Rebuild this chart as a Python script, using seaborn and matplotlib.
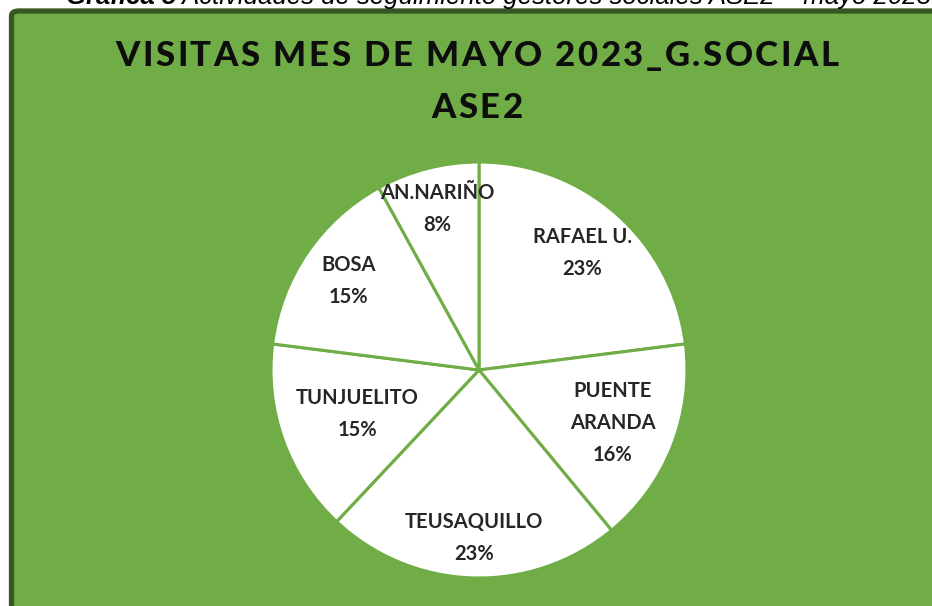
import matplotlib
matplotlib.use("Agg")
import matplotlib.pyplot as plt
import seaborn as sns
from matplotlib.patches import FancyBboxPatch
import numpy as np

# ========= DATOS ==========
localidades = ["RAFAEL U.", "PUENTE\nARANDA", "TEUSAQUILLO", "TUNJUELITO", "BOSA", "AN.NARIÑO"]
porcentajes = [23, 16, 23, 15, 15, 8]
titulo = ["VISITAS MES DE MAYO 2023_G.SOCIAL", "ASE2"]
leyenda_neg = "Gráfica 5"
leyenda_sup = " Actividades de seguimiento gestores sociales ASE2 – mayo 2023"

# ========= ESTILO ==========
sns.set_theme(style="white")
plt.rcParams["font.family"] = ["Lato", "DejaVu Sans"]
verde = "#70AD47"
verde_osc = "#375623"

W, H = 932, 606
fig = plt.figure(figsize=(W / 100, H / 100), dpi=100)
fig.patch.set_facecolor("white")
rend = fig.canvas.get_renderer()

# marco verde (recortado a la derecha y abajo)
marco = FancyBboxPatch((11.5 / W, -0.05), 1.0, (H - 11) / H + 0.05,
                       boxstyle="round,pad=0,rounding_size=0.008",
                       transform=fig.transFigure, facecolor=verde,
                       edgecolor=verde_osc, linewidth=3.8, zorder=0)
fig.patches.append(marco)

# leyenda de la figura, cortada arriba
t1 = fig.text(66 / W, 1 - 4 / H, leyenda_neg, fontsize=18.5, style="italic", weight="bold",
              family="Liberation Sans", va="baseline", ha="left", color="black")
x_sig = t1.get_window_extent(rend).x1
fig.text(x_sig / W, 1 - 4 / H, leyenda_sup, fontsize=18.5, style="italic",
         family="Liberation Sans", va="baseline", ha="left", color="black")


# título con espaciado entre letras
def texto_espaciado(s, xc, yb, extra, **kw):
    anchos = []
    for ch in s:
        t = fig.text(0, 0, ch if ch != " " else "i i", **kw)
        w = t.get_window_extent(rend).width
        if ch == " ":
            t2 = fig.text(0, 0, "ii", **kw)
            w = w - t2.get_window_extent(rend).width
            t2.remove()
        anchos.append(w)
        t.remove()
    total = sum(anchos) + extra * (len(s) - 1)
    x = xc - total / 2
    for ch, w in zip(s, anchos):
        fig.text(x / W, 1 - yb / H, ch, ha="left", va="baseline", **kw)
        x += w + extra


estilo_tit = dict(fontsize=25, weight="black", color="#0d0d0d")
texto_espaciado(titulo[0], 477, 66, 2.5, **estilo_tit)
texto_espaciado(titulo[1], 477, 118, 2.5, **estilo_tit)

# ========= PASTEL ==========
cx, cy, R = 479, 370, 208
ax = fig.add_axes([(cx - R) / W, (H - cy - R) / H, 2 * R / W, 2 * R / H], zorder=2)
ax.set_facecolor("none")
wedges, _ = ax.pie(porcentajes, startangle=90, counterclock=False, radius=1,
                   colors=["white"] * len(porcentajes),
                   wedgeprops=dict(edgecolor=verde, linewidth=2.2))
ax.set_xlim(-1, 1)
ax.set_ylim(-1, 1)
ax.set_aspect("equal")
ax.axis("off")

dist = [0.75, 0.69, 0.81, 0.62, 0.76, 0.80]
for w, nombre, p, d in zip(wedges, localidades, porcentajes, dist):
    ang = np.deg2rad((w.theta1 + w.theta2) / 2)
    ax.text(d * np.cos(ang), d * np.sin(ang), f"{nombre}\n{p}%", ha="center", va="center",
            fontsize=14.5, weight="bold", color="#262626", linespacing=1.75)

plt.savefig("out.png", dpi=100)
